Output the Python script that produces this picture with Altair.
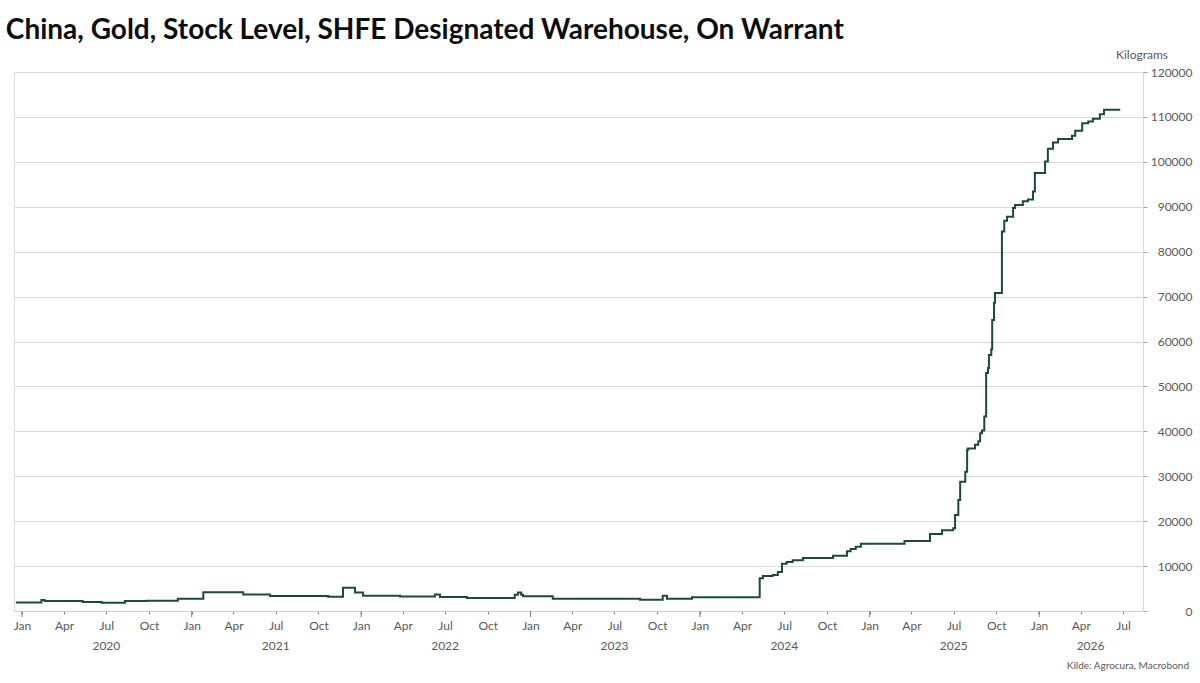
import altair as alt
import pandas as pd

# Step points (date of change, stock level in kilograms)
dates = [
    "2019-12-19", "2020-02-12", "2020-02-19", "2020-05-11", "2020-06-21", "2020-08-10",
    "2020-09-26", "2020-12-02", "2021-01-26", "2021-04-22", "2021-06-19", "2021-10-22",
    "2021-11-23", "2021-12-19", "2022-01-05", "2022-03-26", "2022-06-09", "2022-06-20",
    "2022-08-17", "2022-11-28", "2022-12-05", "2022-12-12", "2022-12-16", "2023-02-18",
    "2023-08-25", "2023-10-13", "2023-10-22", "2023-12-15", "2024-05-09", "2024-05-16",
    "2024-06-06", "2024-06-17", "2024-06-26", "2024-07-06", "2024-07-19", "2024-08-10",
    "2024-10-14", "2024-11-13", "2024-11-21", "2024-12-02", "2024-12-13", "2025-03-17",
    "2025-05-11", "2025-06-06", "2025-06-30", "2025-07-04", "2025-07-11", "2025-07-15",
    "2025-07-26", "2025-07-30", "2025-08-01", "2025-08-16", "2025-08-23", "2025-08-27",
    "2025-08-31", "2025-09-05", "2025-09-09", "2025-09-13", "2025-09-15", "2025-09-20",
    "2025-09-22", "2025-09-26", "2025-09-28", "2025-10-13", "2025-10-18", "2025-10-24",
    "2025-11-06", "2025-11-10", "2025-11-27", "2025-12-08", "2025-12-19", "2025-12-23",
    "2026-01-14", "2026-01-20", "2026-01-31", "2026-02-11", "2026-03-13", "2026-03-20",
    "2026-04-04", "2026-04-17", "2026-04-27", "2026-05-12", "2026-05-21", "2026-06-25",
]
values = [
    1900, 2450, 2200, 2000, 1850, 2200,
    2300, 2750, 4150, 3700, 3350, 3200,
    5200, 4100, 3400, 3250, 3700, 3100,
    2900, 3600, 4100, 3600, 3300, 2750,
    2500, 3400, 2750, 3050, 7300, 7800,
    8000, 8700, 10500, 10900, 11300, 11800,
    12300, 13300, 13800, 14300, 15000, 15600,
    17150, 18000, 18400, 21400, 24700, 28800,
    31000, 35900, 36200, 37000, 37800, 39600,
    40200, 43300, 53000, 54100, 57000, 58300,
    64800, 68600, 70800, 84500, 86900, 87800,
    89700, 90400, 91200, 91600, 93400, 97500,
    100100, 102900, 104300, 105100, 105800, 106900,
    108600, 109000, 109600, 110600, 111600, 111600,
]

title_text = "China, Gold, Stock Level, SHFE Designated Warehouse, On Warrant"
unit_text = "Kilograms"
source_text = "Kilde: Agrocura, Macrobond"
y_ticks = [0, 10000, 20000, 30000, 40000, 50000, 60000, 70000, 80000, 90000, 100000, 110000, 120000]
years = [2020, 2021, 2022, 2023, 2024, 2025, 2026]
# year labels sit in the middle of the visible part of each year
year_label_dates = ["2020-07-01", "2021-07-01", "2022-07-01", "2023-07-01",
                    "2024-07-01", "2025-07-01", "2026-04-22"]
year_start_dates = ["%d-01-01" % y for y in years]

df = pd.DataFrame({"date": dates, "value": values})
df_years = pd.DataFrame({"date": year_label_dates, "year": [str(y) for y in years]})
df_jan = pd.DataFrame({"date": year_start_dates})

W, H = 1129, 539
FONT = "Lato"
GREY = "#595959"

xscale = alt.Scale(
    type="utc",
    domain=[alt.DateTime(year=2019, month=12, date=15, utc=True),
            alt.DateTime(year=2026, month=8, date=13, utc=True)],
)

quarter_vals = []
for yr in years:
    for m in (1, 4, 7, 10):
        if yr == 2026 and m > 7:
            continue
        quarter_vals.append(alt.DateTime(year=yr, month=m, date=1, utc=True))

month_axis = alt.Axis(
    orient="bottom", values=quarter_vals, labelExpr="utcFormat(datum.value, '%b')",
    title=None, grid=False, domain=True, domainColor="#d0d0d0", tickColor="#7f7f7f",
    tickSize=3, labelFont=FONT, labelFontSize=12, labelColor=GREY, labelPadding=6,
    labelFlush=False,
)

yaxis = alt.Axis(
    orient="right", values=y_ticks, format="d", title=None,
    grid=True, gridColor="#d9d9d9", gridWidth=1,
    domain=True, domainColor="#d9d9d9", tickColor="#a6a6a6", tickSize=4,
    labelAlign="right", labelPadding=45, labelFont=FONT, labelFontSize=12, labelColor=GREY,
)
yscale = alt.Scale(domain=[0, 120000], nice=False)

line = alt.Chart(df).mark_line(
    interpolate="step-after", color="#1d4a38", strokeWidth=2
).encode(
    x=alt.X("date:T", scale=xscale, axis=month_axis),
    y=alt.Y("value:Q", scale=yscale, axis=yaxis),
)

jan_ticks = alt.Chart(df_jan).mark_rule(color="#7f7f7f", strokeWidth=1).encode(
    x=alt.X("date:T", scale=xscale),
    y=alt.value(H),
    y2=alt.value(H + 6),
)

year_labels = alt.Chart(df_years).mark_text(
    font=FONT, fontSize=12, color=GREY, baseline="middle"
).encode(
    x=alt.X("date:T", scale=xscale),
    y=alt.value(H + 35),
    text="year:N",
)

unit = alt.Chart(pd.DataFrame({"t": [unit_text]})).mark_text(
    font=FONT, fontSize=12, color=GREY, align="right", baseline="alphabetic"
).encode(x=alt.value(W + 25), y=alt.value(-13), text="t:N")

source = alt.Chart(pd.DataFrame({"t": [source_text]})).mark_text(
    font=FONT, fontSize=10, color=GREY, align="right", baseline="alphabetic"
).encode(x=alt.value(W + 46), y=alt.value(58 + H), text="t:N")

chart = alt.layer(line, jan_ticks, year_labels, unit, source).properties(
    width=W, height=H,
    title=alt.TitleParams(
        text=title_text, anchor="start", font=FONT, fontSize=28, fontWeight="bold",
        color="#0d0d0d", dx=-6, offset=4,
    ),
    padding={"left": 14, "top": 72, "right": 57, "bottom": 72},
    autosize=alt.AutoSizeParams(type="none"),
).configure_view(stroke=None).configure(background="white")

chart.save("out.html", embed_options={"renderer": "svg", "actions": False})
